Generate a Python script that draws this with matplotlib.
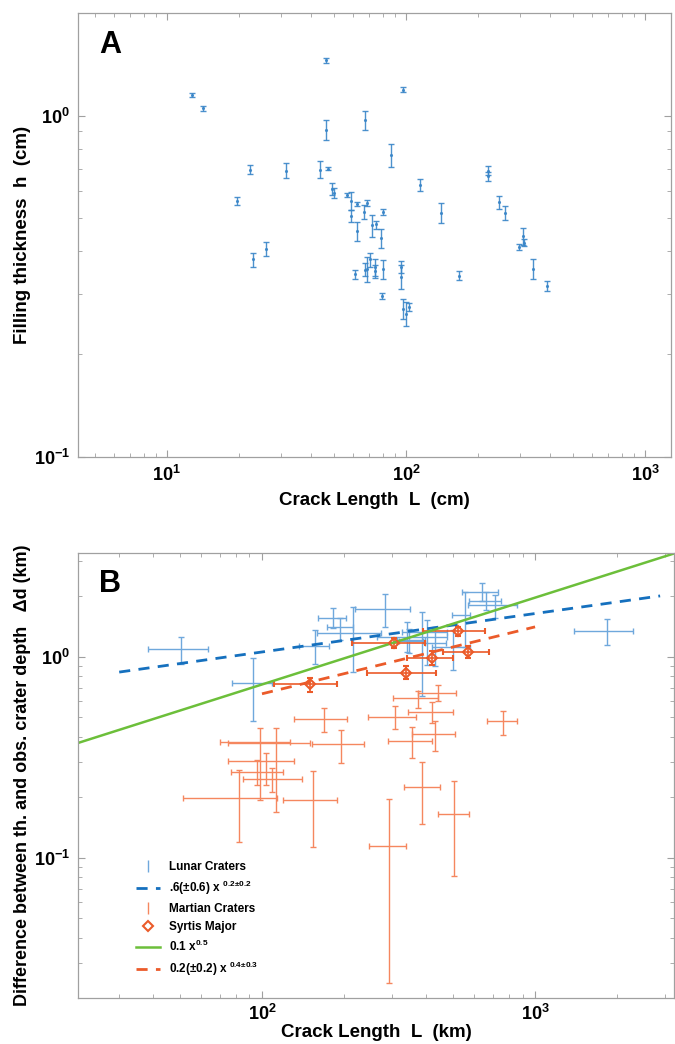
import matplotlib.pyplot as plt
import numpy as np
from matplotlib.lines import Line2D
from matplotlib.ticker import NullFormatter

plt.rcParams['font.family'] = ['Liberation Sans', 'DejaVu Sans']
plt.rcParams['font.weight'] = 'bold'
plt.rcParams['mathtext.fontset'] = 'custom'
plt.rcParams['mathtext.rm'] = 'Liberation Sans:bold'
plt.rcParams['mathtext.it'] = 'Liberation Sans:bold'
plt.rcParams['mathtext.bf'] = 'Liberation Sans:bold'
plt.rcParams['mathtext.default'] = 'rm'
plt.rcParams['axes.unicode_minus'] = False

# ---- panel A : filling thickness vs crack length (cm)
crack_cm = [12.8, 14.1, 46.4, 46.4, 67.7, 86.6, 22.2, 31.5, 43.5, 47.2, 49.3, 50.0, 19.6,
            56.5, 58.9, 62.4, 68.5, 79.9, 59.0, 66.7, 115, 139.6, 72.2, 75.3, 62.7, 78.5,
            25.9, 22.9, 70.6, 67.7, 69.0, 74.0, 74.5, 79.9, 61.4, 95.2, 95.2, 79.4, 97.5,
            100, 102.6, 97.5, 219.8, 219.8, 246, 259, 310, 298, 312, 339, 390, 166.7]
fill_cm = [1.15, 1.05, 1.455, 0.91, 0.97, 0.765, 0.695, 0.69, 0.695, 0.70, 0.61, 0.595, 0.563,
           0.586, 0.564, 0.552, 0.555, 0.521, 0.508, 0.523, 0.627, 0.519, 0.477, 0.48, 0.459, 0.438,
           0.407, 0.379, 0.379, 0.354, 0.355, 0.36, 0.35, 0.355, 0.343, 0.36, 0.337, 0.296, 0.272,
           0.263, 0.275, 1.19, 0.69, 0.665, 0.558, 0.519, 0.443, 0.412, 0.425, 0.356, 0.317, 0.34]
fill_err = [0.015, 0.02, 0.025, 0.06, 0.06, 0.06, 0.02, 0.035, 0.04, 0.008, 0.025, 0.02, 0.015,
            0.008, 0.035, 0.008, 0.01, 0.01, 0.02, 0.025, 0.025, 0.035, 0.035, 0.013, 0.03, 0.028,
            0.02, 0.018, 0.018, 0.015, 0.03, 0.02, 0.015, 0.022, 0.01, 0.015, 0.027, 0.006, 0.019,
            0.021, 0.008, 0.02, 0.02, 0.02, 0.025, 0.025, 0.025, 0.008, 0.01, 0.024, 0.01, 0.01]

# ---- panel B : depth difference vs crack length (km)
lunar_L = [50.5, 92.9, 156, 181.5, 193, 216, 282, 384, 339, 345, 401, 502, 431, 554, 638, 661, 714, 1841]
lunar_L_lo = [38.1, 77.4, 136.6, 160.6, 172.6, 158.5, 219, 263, 311, 318, 325, 418, 395, 495, 542, 575, 567, 1390]
lunar_L_hi = [63.2, 108.5, 176.4, 203, 216, 273, 348, 475, 395, 390, 475, 578, 470, 578, 734, 748, 861, 2290]
lunar_d = [1.096, 0.74, 1.138, 1.569, 1.40, 1.312, 1.733, 1.262, 1.215, 1.20, 1.336, 1.12, 1.174, 1.618, 2.113, 1.9, 1.814, 1.35]
lunar_d_lo = [0.92, 0.482, 0.92, 1.39, 1.215, 0.845, 1.406, 0.642, 1.062, 1.04, 0.912, 0.86, 0.902, 1.125, 1.9, 1.71, 1.557, 1.147]
lunar_d_hi = [1.262, 0.985, 1.362, 1.76, 1.557, 1.767, 2.05, 1.68, 1.498, 1.38, 1.53, 1.36, 1.415, 2.11, 2.34, 2.11, 2.03, 1.545]

mars_L = [168.7, 307, 421, 442, 374, 431, 355, 194.5, 761.5, 98.3, 112.2, 103.2, 95.9, 108.8, 82.6, 153.4, 386.8, 506, 291.7]
mars_L_lo = [131.3, 245, 343, 374, 301, 353, 290, 152.8, 665, 70.2, 75.3, 75.3, 77, 85.4, 51.5, 119.7, 331, 442, 247]
mars_L_hi = [205.3, 366, 499, 513, 442, 509, 421, 237, 861, 126.6, 150, 131.3, 119.7, 140.5, 113.2, 188.7, 449, 573, 337]
mars_d = [0.49, 0.505, 0.531, 0.664, 0.623, 0.413, 0.382, 0.368, 0.477, 0.375, 0.372, 0.304, 0.268, 0.246, 0.1995, 0.1944, 0.2248, 0.165, 0.115]
mars_d_lo = [0.422, 0.438, 0.468, 0.600, 0.556, 0.342, 0.313, 0.296, 0.409, 0.194, 0.170, 0.231, 0.231, 0.213, 0.1205, 0.1138, 0.1476, 0.0817, 0.0238]
mars_d_hi = [0.556, 0.570, 0.595, 0.726, 0.680, 0.477, 0.450, 0.433, 0.535, 0.442, 0.442, 0.333, 0.307, 0.280, 0.274, 0.269, 0.299, 0.2415, 0.196]

syrtis_L = [150, 305, 524, 337, 419.5, 567]
syrtis_L_lo = [111, 213, 390, 242, 340, 459]
syrtis_L_hi = [189, 395, 656, 434, 499, 680]
syrtis_d = [0.734, 1.17, 1.347, 0.835, 0.985, 1.055]
syrtis_d_lo = [0.667, 1.105, 1.272, 0.774, 0.912, 0.992]
syrtis_d_hi = [0.789, 1.239, 1.415, 0.902, 1.071, 1.134]

# fitted power laws, end points
lunar_fit_x = [30, 2870]
lunar_fit_y = [0.84, 2.01]
green_x = [21.2, 3230]
green_y = [0.373, 3.27]
mars_fit_x = [100, 1000]
mars_fit_y = [0.655, 1.41]

legend_labels = ['Lunar Craters', '.6(±0.6) x $^{0.2±0.2}$', 'Martian Craters',
                 'Syrtis Major', '0.1 x$^{0.5}$', '0.2(±0.2) x $^{0.4±0.3}$']

blue = '#3A86C8'
blue_light = '#6FA8DC'
blue_dark = '#1570BE'
orange = '#F5875F'
orange_dark = '#EB5B2A'
green = '#6CBF3A'
spine_col = '#A0A0A0'


def style_axes(ax):
    ax.set_xscale('log')
    ax.set_yscale('log')
    for s in ax.spines.values():
        s.set_color(spine_col)
        s.set_linewidth(0.9)
    ax.tick_params(which='both', direction='in', top=True, right=True,
                   color=spine_col, labelsize=13, pad=6)
    ax.tick_params(which='major', length=5)
    ax.tick_params(which='minor', length=3)
    ax.xaxis.set_minor_formatter(NullFormatter())
    ax.yaxis.set_minor_formatter(NullFormatter())


def asym(c, lo, hi):
    c = np.array(c); lo = np.array(lo); hi = np.array(hi)
    return np.vstack([c - lo, hi - c])


fig = plt.figure(figsize=(6.75, 10.44), dpi=100)

axA = fig.add_axes([0.1156, 0.5623, 0.8785, 0.4253])
style_axes(axA)
axA.errorbar(crack_cm, fill_cm, yerr=fill_err, fmt='.', color=blue, ms=2.5,
             elinewidth=1.0, capsize=2.2, capthick=1.0, alpha=0.9)
axA.set_xlim(4.25, 1285)
axA.set_ylim(0.1, 2.0)
axA.set_xlabel('Crack Length  L  (cm)', fontsize=13.5, fontweight='bold', labelpad=5)
axA.set_ylabel('Filling thickness  h  (cm)', fontsize=13.5, fontweight='bold', labelpad=2)
axA.text(0.035, 0.928, 'A', transform=axA.transAxes, fontsize=22, fontweight='bold',
         va='center', ha='left')

axB = fig.add_axes([0.1156, 0.0441, 0.883, 0.4263])
style_axes(axB)
axB.tick_params(axis='x', pad=4)
axB.errorbar(lunar_L, lunar_d, xerr=asym(lunar_L, lunar_L_lo, lunar_L_hi),
             yerr=asym(lunar_d, lunar_d_lo, lunar_d_hi), fmt='none', ecolor=blue_light,
             elinewidth=1.0, capsize=2.2, capthick=1.0)
axB.errorbar(mars_L, mars_d, xerr=asym(mars_L, mars_L_lo, mars_L_hi),
             yerr=asym(mars_d, mars_d_lo, mars_d_hi), fmt='none', ecolor=orange,
             elinewidth=1.0, capsize=2.2, capthick=1.0)
axB.errorbar(syrtis_L, syrtis_d, xerr=asym(syrtis_L, syrtis_L_lo, syrtis_L_hi),
             yerr=asym(syrtis_d, syrtis_d_lo, syrtis_d_hi), fmt='D', mfc='none',
             mec=orange_dark, ms=5, mew=1.5, ecolor=orange_dark, elinewidth=1.2,
             capsize=2.2, capthick=1.2)
axB.plot(lunar_fit_x, lunar_fit_y, '--', color=blue_dark, lw=2.0, dashes=(4, 3))
axB.plot(green_x, green_y, '-', color=green, lw=1.8)
axB.plot(mars_fit_x, mars_fit_y, '--', color=orange_dark, lw=2.0, dashes=(4, 3))
axB.set_xlim(21.2, 3228)
axB.set_ylim(0.0201, 3.29)
axB.set_xlabel('Crack Length  L  (km)', fontsize=13.5, fontweight='bold', labelpad=0)
axB.set_ylabel('Difference between th. and obs. crater depth   Δd (km)', fontsize=13,
               fontweight='bold', labelpad=2)
axB.text(0.035, 0.93, 'B', transform=axB.transAxes, fontsize=22, fontweight='bold',
         va='center', ha='left')

# legend proxies
pL = axB.errorbar([], [], yerr=[], fmt='none', ecolor=blue_light, elinewidth=1.0,
                  capsize=2.5)
pM = axB.errorbar([], [], yerr=[], fmt='none', ecolor=orange, elinewidth=1.0, capsize=2.5)
handles = [pL,
           Line2D([], [], ls='--', color=blue_dark, lw=2.0, dashes=(4, 3)),
           pM,
           Line2D([], [], ls='none', marker='D', mfc='none', mec=orange_dark, ms=5, mew=1.5),
           Line2D([], [], ls='-', color=green, lw=1.8),
           Line2D([], [], ls='--', color=orange_dark, lw=2.0, dashes=(4, 3))]
axB.legend(handles, legend_labels, loc='lower left', bbox_to_anchor=(0.08, 0.02),
           frameon=False, prop={'size': 8.5, 'weight': 'bold'}, handlelength=2.0,
           labelspacing=0.5)

fig.savefig('out.png', dpi=100)
